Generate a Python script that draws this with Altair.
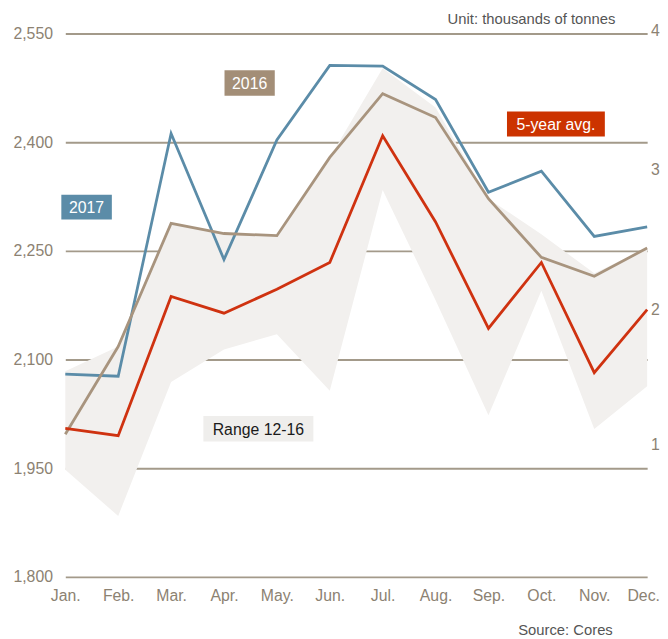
import json
import altair as alt
import pandas as pd

# ---- data ----
months = ["Jan.", "Feb.", "Mar.", "Apr.", "May.", "Jun.", "Jul.", "Aug.", "Sep.", "Oct.", "Nov.", "Dec."]
y2017 = [2080, 2077, 2412, 2238, 2403, 2506, 2505, 2459, 2331, 2360, 2270, 2283]
y2016 = [1997, 2118, 2288, 2274, 2271, 2379, 2467, 2434, 2322, 2241, 2215, 2254]
avg5 = [2005, 1995, 2187, 2164, 2197, 2234, 2409, 2290, 2143, 2234, 2082, 2169]
range_low = [1948, 1884, 2069, 2114, 2135, 2057, 2334, 2182, 2023, 2195, 2004, 2063]
range_high = [2084, 2118, 2288, 2274, 2271, 2379, 2502, 2448, 2322, 2273, 2219, 2254]

y_ticks = [1800, 1950, 2100, 2250, 2400, 2550]
right_labels = ["4", "3", "2", "1"]
right_label_pos = [2554, 2362, 2168, 1982]

series_names = ["2017", "2016", "5-year avg."]
series_colors = ["#5b8ca8", "#a8947e", "#cf3210"]

# annotation boxes (data coordinates: month index / tonnes)
box_text = ["2017", "2016", "5-year avg.", "Range 12-16"]
box_x1 = [-0.075, 3.01, 8.35, 2.61]
box_x2 = [0.88, 3.96, 10.2, 4.69]
box_y1 = [2293.5, 2464, 2408, 1987]
box_y2 = [2327.5, 2499.5, 2442.5, 2022]
box_fill = ["#5b8ca8", "#a38e77", "#cc3300", "#efeeec"]
box_txt_color = ["#ffffff", "#ffffff", "#ffffff", "#1a1a1a"]

FONT = "Liberation Sans"
AXIS_COLOR = "#8c8272"
GRID_COLOR = "#a39a8a"

idx = list(range(12))
band = pd.DataFrame({"x": idx, "y": range_low, "yb": range_high})
lines = pd.DataFrame({
    "x": idx * 3,
    "y": y2017 + y2016 + avg5,
    "series": ["2017"] * 12 + ["2016"] * 12 + ["5-year avg."] * 12,
})
boxes = pd.DataFrame({
    "text": box_text, "x": box_x1, "xb": box_x2, "y": box_y1, "yb": box_y2,
    "fill": box_fill, "tcolor": box_txt_color,
})
box_centers = pd.DataFrame({
    "text": box_text,
    "x": [(a + b) / 2 for a, b in zip(box_x1, box_x2)],
    "y": [(a + b) / 2 for a, b in zip(box_y1, box_y2)],
    "tcolor": box_txt_color,
})
right_df = pd.DataFrame({"label": right_labels, "y": right_label_pos, "x": [11] * 4})
notes = pd.DataFrame({
    "label": ["Unit: thousands of tonnes", "Source: Cores"],
    "x": [10.4, 10.35],
    "y": [2570, 1727],
})

xscale = alt.Scale(domain=[0, 11], nice=False, zero=False)
yscale = alt.Scale(domain=[1800, 2550], nice=False, zero=False)

x_axis = alt.Axis(
    values=idx, labelExpr=f"{json.dumps(months)}[datum.value]", title=None,
    grid=False, domain=False, ticks=False, labelFontSize=16, labelFont=FONT,
    labelColor=AXIS_COLOR, labelPadding=11, labelFlush=False, labelOverlap=False,
    labelOffset={"condition": {"test": "datum.value === 11", "value": -4}, "value": 0},
)
y_axis = alt.Axis(
    values=y_ticks, format=",.0f", title=None, grid=True, gridColor=GRID_COLOR,
    gridWidth=2, domain=False, ticks=False, labelFontSize=16, labelFont=FONT,
    labelColor=AXIS_COLOR, labelPadding=13, labelFlush=False, labelOverlap=False,
)

X = alt.X("x:Q", scale=xscale, axis=x_axis)
Y = alt.Y("y:Q", scale=yscale, axis=y_axis)

area = alt.Chart(band).mark_area(color="#f2f0ee", opacity=1).encode(
    x=X, y=Y, y2="yb:Q",
)

line = alt.Chart(lines).mark_line(strokeWidth=2.8, strokeJoin="miter").encode(
    x=X, y=Y,
    color=alt.Color("series:N", scale=alt.Scale(domain=series_names, range=series_colors), legend=None),
    order=alt.Order("x:Q"),
)

rects = alt.Chart(boxes).mark_rect().encode(
    x=X, x2="xb:Q", y=Y, y2="yb:Q",
    color=alt.Color("fill:N", scale=None),
)
box_labels = alt.Chart(box_centers).mark_text(font=FONT, fontSize=16, align="center", baseline="middle", dy=1).encode(
    x=X, y=Y, text="text:N",
    color=alt.Color("tcolor:N", scale=None),
)

right_text = alt.Chart(right_df).mark_text(font=FONT, fontSize=16, align="left", baseline="middle", dx=4, color=AXIS_COLOR).encode(
    x=X, y=Y, text="label:N",
)

note_text = alt.Chart(notes).mark_text(font=FONT, fontSize=15, align="right", baseline="middle", color="#555555").encode(
    x=X, y=Y, text="label:N",
)

chart = alt.layer(area, line, rects, box_labels, right_text, note_text).properties(
    width=589, height=550,
    autosize=alt.AutoSizeParams(type="none"),
    padding={"left": 58, "top": 22, "right": 13, "bottom": 59},
    background="white",
).configure_view(stroke=None)

chart.save("out.html", embed_options={"renderer": "svg", "actions": False})
